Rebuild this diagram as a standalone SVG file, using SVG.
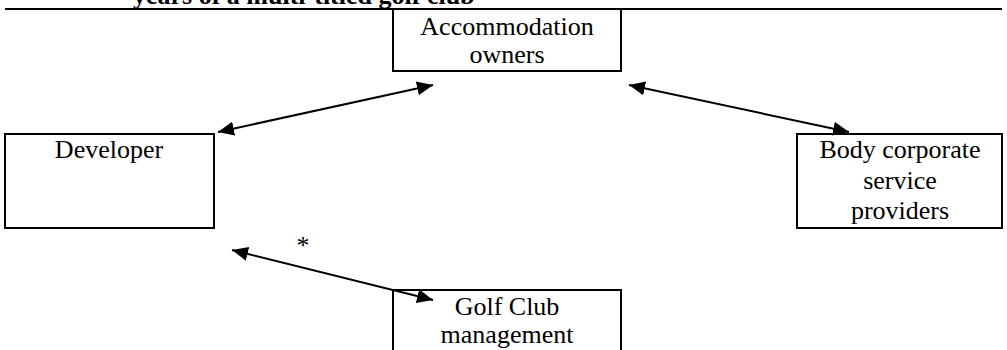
<svg xmlns="http://www.w3.org/2000/svg" width="1007" height="350" viewBox="0 0 1007 350">
<style>
.box{fill:none;stroke:#000;stroke-width:2}
text{font-family:"Liberation Serif","Times New Roman","DejaVu Serif",serif;font-size:26px;fill:#000}
.t{text-anchor:middle}
.title{font-weight:bold}
.conn{stroke:#000;stroke-width:2;fill:none;marker-start:url(#ah);marker-end:url(#ah)}
</style>
<defs>
<marker id="ah" markerUnits="userSpaceOnUse" markerWidth="18" markerHeight="16" refX="16" refY="7" orient="auto-start-reverse">
<path d="M0,0 L16,7 L0,14 z" fill="#000"/>
</marker>
</defs>
<rect width="1007" height="350" fill="#fff"/>
<text class="title" x="133" y="4">years of a multi-titled golf club</text>
<line x1="5" y1="9" x2="1002" y2="9" stroke="#000" stroke-width="2.2"/>
<g id="accommodation">
<rect class="box" x="393" y="9" width="228" height="62"/>
<text class="t" x="507" y="35">Accommodation</text>
<text class="t" x="507" y="63">owners</text>
</g>
<g id="developer">
<rect class="box" x="5" y="134" width="209" height="94"/>
<text class="t" x="109" y="158">Developer</text>
</g>
<g id="bodycorporate">
<rect class="box" x="797" y="134" width="205" height="94"/>
<text class="t" x="900" y="158">Body corporate</text>
<text class="t" x="900" y="189">service</text>
<text class="t" x="900" y="219">providers</text>
</g>
<g id="golfclub">
<rect class="box" x="393" y="290" width="228" height="80"/>
<text class="t" x="507" y="315">Golf Club</text>
<text class="t" x="507" y="343">management</text>
</g>
<g id="connectors">
<line class="conn" x1="218" y1="132" x2="433" y2="85"/>
<line class="conn" x1="629" y1="85" x2="849" y2="132"/>
<line class="conn" x1="232" y1="250" x2="433" y2="300"/>
</g>
<text class="t" x="303" y="254">*</text>
</svg>
